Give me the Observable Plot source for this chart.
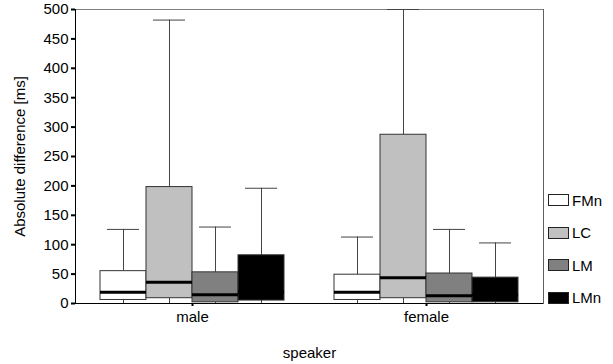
<!DOCTYPE html>
<html><head><meta charset="utf-8">
<script src="https://cdn.jsdelivr.net/npm/d3@7"></script>
<script src="https://cdn.jsdelivr.net/npm/@observablehq/plot@0.6"></script>
<style>
body{margin:0;background:#fff;}
#wrap{position:relative;width:613px;height:364px;font-family:"Liberation Sans",Arial,sans-serif;}
#legend{position:absolute;left:548px;top:184px;font-size:15px;color:#000;}
.item{display:flex;align-items:center;height:32.5px;}
.sw{width:19px;height:10px;border:1px solid #222;margin-right:3px;}
</style></head><body><div id="wrap"></div>
<script>
const speakers = ["male", "female"];
const series = ["FMn", "LC", "LM", "LMn"];
const colors = ["#ffffff", "#c0c0c0", "#808080", "#000000"];
const yTicks = [0, 50, 100, 150, 200, 250, 300, 350, 400, 450, 500];

const rowSpeaker = ["male", "male", "male", "male", "female", "female", "female", "female"];
const rowSeries  = ["FMn", "LC", "LM", "LMn", "FMn", "LC", "LM", "LMn"];
const whiskerLow = [0, 0, 0, 0, 0, 0, 0, 0];
const q1         = [6, 9, 2, 5, 6, 9, 2, 2];
const median     = [19, 36, 15, 20, 19, 44, 13, 15];
const q3         = [55, 198, 53, 82, 49, 287, 51, 44];
const whiskerHigh= [126, 482, 130, 196, 113, 500, 126, 103];

const rows = rowSpeaker.map((s, i) => ({
  speaker: s, series: rowSeries[i], low: whiskerLow[i], q1: q1[i],
  median: median[i], q3: q3[i], high: whiskerHigh[i]
}));

const chart = Plot.plot({
  width: 613, height: 364,
  marginLeft: 74, marginRight: 70, marginTop: 9, marginBottom: 61,
  style: {fontFamily: "Liberation Sans, Arial, sans-serif", fontSize: "15px", background: "white", color: "black"},
  fx: {domain: speakers, padding: 0},
  x: {domain: series, paddingInner: 0, paddingOuter: 0.5, axis: null},
  y: {domain: [0, 500]},
  color: {domain: series, range: colors},
  marks: [
    Plot.ruleY([500], {stroke: "#808080"}),
    Plot.frame({anchor: "right", fx: ["female"], stroke: "#606060"}),
    Plot.frame({anchor: "left", fx: ["male"], stroke: "black"}),
    Plot.ruleX(rows, {fx: "speaker", x: "series", y1: "q3", y2: "high", stroke: "#444"}),
    Plot.ruleX(rows, {fx: "speaker", x: "series", y1: "low", y2: "q1", stroke: "#444"}),
    Plot.tickY(rows, {fx: "speaker", x: "series", y: "high", stroke: "#444", insetLeft: 7, insetRight: 7}),
    Plot.barY(rows, {fx: "speaker", x: "series", y1: "q1", y2: "q3", fill: "series", stroke: "#333"}),
    Plot.tickY(rows, {fx: "speaker", x: "series", y: "median", stroke: "black", strokeWidth: 3}),
    Plot.ruleY([0], {stroke: "black"}),
    Plot.axisY({ticks: yTicks, tickSize: 4, tickPadding: 3, strokeWidth: 2, label: "Absolute difference [ms]", labelAnchor: "center", labelOffset: 61, labelArrow: "none"}),
    Plot.axisFx({anchor: "bottom", tickSize: 3, tickPadding: 5, strokeWidth: 2, label: "speaker", labelAnchor: "center", labelOffset: 54, labelArrow: "none"})
  ]
});

const wrap = document.getElementById("wrap");
wrap.appendChild(chart);
const legend = d3.select(wrap).append("div").attr("id", "legend");
series.forEach((s, i) => {
  const item = legend.append("div").attr("class", "item");
  item.append("div").attr("class", "sw").style("background", colors[i]);
  item.append("span").text(s);
});
</script></body></html>
